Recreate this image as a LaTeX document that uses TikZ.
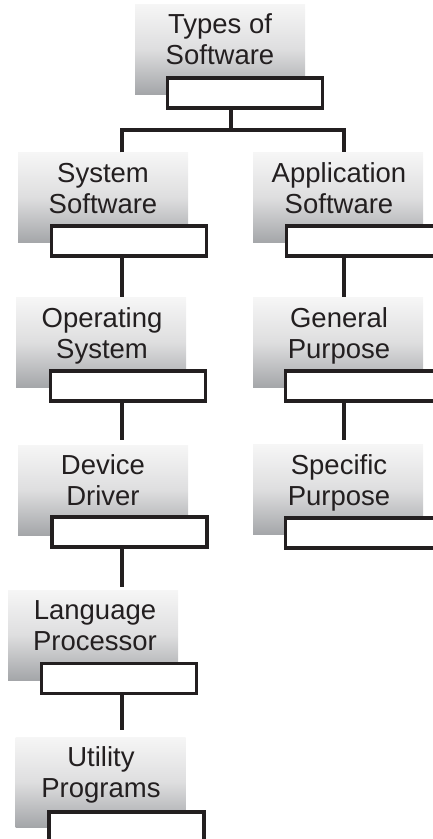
\documentclass[tikz,border=0pt]{standalone}
\usepackage{fontspec}
\setmainfont{Liberation Sans}
\definecolor{ink}{HTML}{231F20}
\definecolor{gtop}{HTML}{F6F6F6}
\definecolor{gmid}{HTML}{DEDEDF}
\definecolor{gbot}{HTML}{A4A6A9}
\tikzset{
  graybox/.style={rectangle, inner sep=0pt, minimum width=170pt, minimum height=90pt,
    top color=gtop, bottom color=gbot, middle color=gmid},
  whitebox/.style={rectangle, draw=ink, line width=3.4pt, fill=white, inner sep=0pt,
    minimum width=155pt, minimum height=30pt},
  boxtext/.style={font=\fontsize{27.5}{31}\selectfont, text=ink, align=center,
    anchor=north, inner sep=0pt},
  conn/.style={draw=ink, line width=3.4pt}
}
\begin{document}
\begin{tikzpicture}[x=1pt,y=-1pt]
\useasboundingbox (0,0) rectangle (433,839);
% top
\node[graybox] (g0) at (220,49) {};
\node[boxtext] (t0) at (220,11.5) {\strut Types of\\\strut Software};
\node[whitebox] (w0) at (245,93) {};
% row 1
\node[graybox] (g1) at (103,197.5) {};
\node[boxtext] (t1) at (103,160.5) {\strut System\\\strut Software};
\node[whitebox] (w1) at (129,241) {};
\node[graybox] (g1r) at (338,197.5) {};
\node[boxtext] (t1r) at (339,160.5) {\strut Application\\\strut Software};
\node[whitebox] (w1r) at (364,241) {};
% row 2
\node[graybox] (g2) at (101,342.5) {};
\node[boxtext] (t2) at (102,305.5) {\strut Operating\\\strut System};
\node[whitebox] (w2) at (128,386) {};
\node[graybox] (g2r) at (338,342.5) {};
\node[boxtext] (t2r) at (339,305.5) {\strut General\\\strut Purpose};
\node[whitebox] (w2r) at (363,386) {};
% row 3
\node[graybox] (g3) at (103,490) {};
\node[boxtext] (t3) at (103,452.5) {\strut Device\\\strut Driver};
\node[whitebox] (w3) at (129.5,532) {};
\node[graybox] (g3r) at (338,489.5) {};
\node[boxtext] (t3r) at (339,452.5) {\strut Specific\\\strut Purpose};
\node[whitebox] (w3r) at (363,533) {};
% row 4
\node[graybox] (g4) at (93,635) {};
\node[boxtext] (t4) at (95,597.5) {\strut Language\\\strut Processor};
\node[whitebox] (w4) at (119,678.5) {};
% row 5
\node[graybox] (g5) at (100.5,782) {};
\node[boxtext] (t5) at (101,744.5) {\strut Utility\\\strut Programs};
\node[whitebox] (w5) at (126.5,827) {};
% connectors
\coordinate (lx) at (122,0);
\coordinate (rx) at (344,0);
\coordinate (tx) at (231,0);
\coordinate (bus) at (0,130);
\draw[conn] (w0.south -| tx) -- (tx |- bus);
\draw[conn] (g1.north -| lx) -- (lx |- bus) -- (rx |- bus) -- (g1r.north -| rx);
\draw[conn] (w1.south -| lx) -- (g2.north -| lx);
\draw[conn] (w2.south -| lx) -- ([yshift=5pt]g3.north -| lx);
\draw[conn] (w3.south -| lx) -- ([yshift=3pt]g4.north -| lx);
\draw[conn] (w4.south -| lx) -- ([yshift=7pt]g5.north -| lx);
\draw[conn] (w1r.south -| rx) -- (g2r.north -| rx);
\draw[conn] (w2r.south -| rx) -- ([yshift=4pt]g3r.north -| rx);
\end{tikzpicture}
\end{document}
